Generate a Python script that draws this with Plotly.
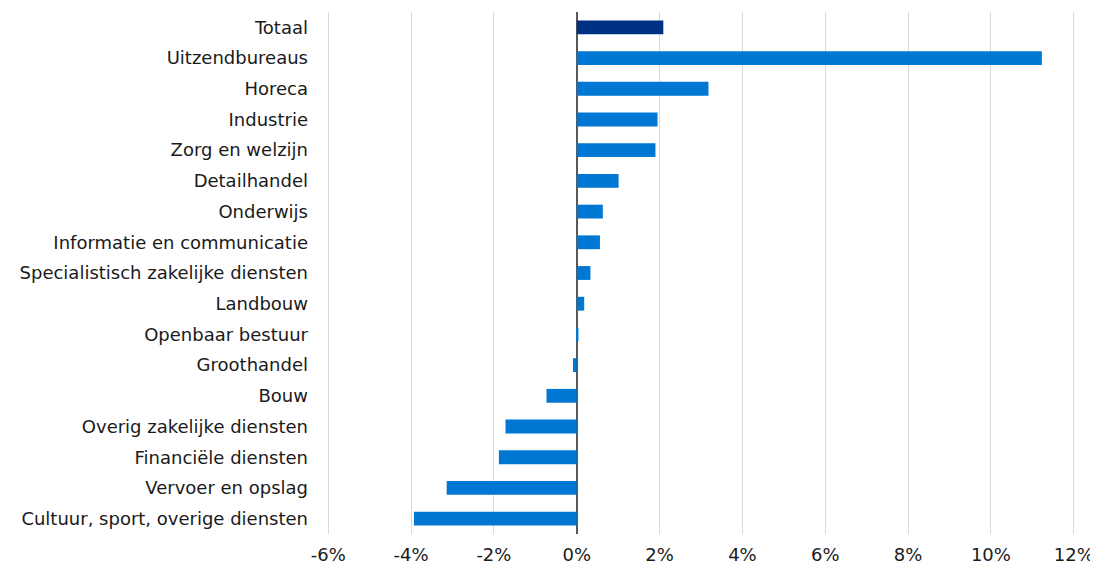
import plotly.graph_objects as go

categories = [
    "Totaal", "Uitzendbureaus", "Horeca", "Industrie", "Zorg en welzijn",
    "Detailhandel", "Onderwijs", "Informatie en communicatie",
    "Specialistisch zakelijke diensten", "Landbouw", "Openbaar bestuur",
    "Groothandel", "Bouw", "Overig zakelijke diensten", "Financiële diensten",
    "Vervoer en opslag", "Cultuur, sport, overige diensten",
]
values = [2.09, 11.23, 3.18, 1.95, 1.90, 1.01, 0.63, 0.56, 0.33, 0.18, 0.04,
          -0.09, -0.73, -1.72, -1.88, -3.14, -3.93]
tick_vals = [-6, -4, -2, 0, 2, 4, 6, 8, 10, 12]
tick_text = ["-6%", "-4%", "-2%", "0%", "2%", "4%", "6%", "8%", "10%", "12%"]

colors = ["#003082" if c == "Totaal" else "#0077D2" for c in categories]

fig = go.Figure(go.Bar(
    x=values, y=categories, orientation="h",
    marker=dict(color=colors, line=dict(width=0)),
))

font = "DejaVu Sans, Verdana, sans-serif"
# page body has an 8px default margin, so the figure is slightly smaller
fig.update_layout(
    width=1090, height=561,
    margin=dict(l=319, r=23, t=4, b=29),
    plot_bgcolor="white", paper_bgcolor="white",
    bargap=0.55,
    showlegend=False,
    font=dict(family=font, size=18, color="#1a1a1a"),
)
fig.update_xaxes(
    range=[-6.03, 12.03], tickvals=tick_vals, ticktext=tick_text,
    showgrid=True, gridcolor="#D9D9D9", gridwidth=1,
    zeroline=True, zerolinecolor="#595959", zerolinewidth=2,
    showline=False, ticks="", ticklabelstandoff=8,
    tickfont=dict(family=font, size=18, color="#1a1a1a"),
)
fig.update_yaxes(
    categoryorder="array", categoryarray=categories, autorange="reversed",
    showgrid=False, zeroline=False, showline=False, ticks="",
    ticklabelstandoff=18,
    tickfont=dict(family=font, size=18, color="#1a1a1a"),
)

fig.write_html("out.html")
